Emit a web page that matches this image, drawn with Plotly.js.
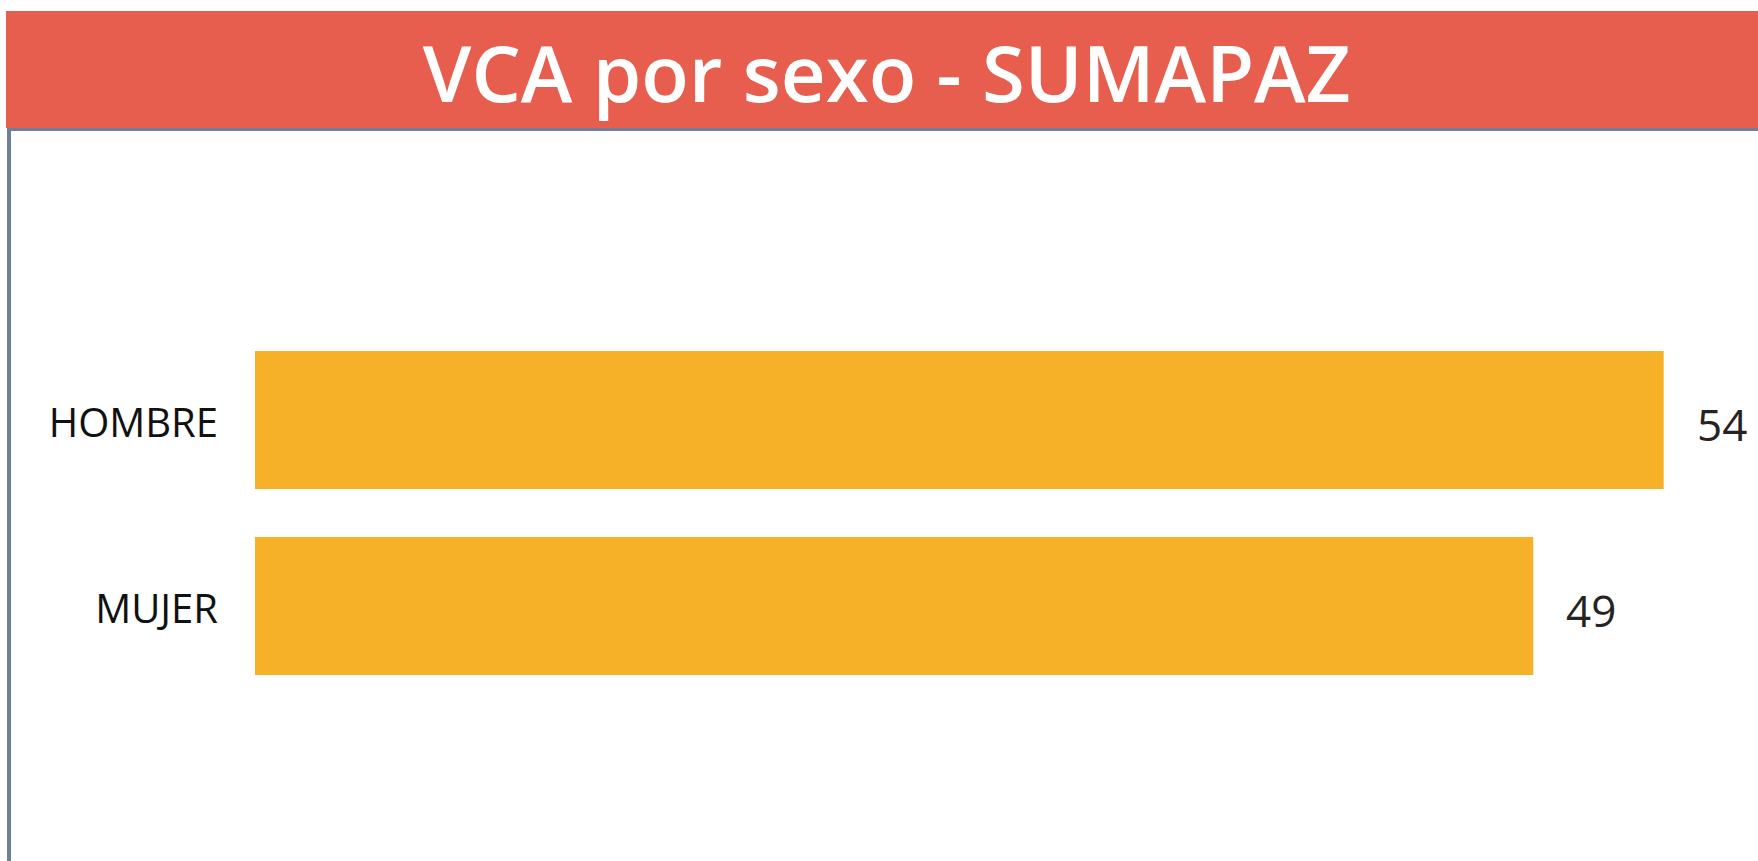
<!DOCTYPE html>
<html>
<head>
<meta charset="utf-8">
<script src="https://cdn.plot.ly/plotly-3.0.1.min.js"></script>
<style>
  html, body { margin: 0; padding: 0; background: #ffffff; overflow: hidden; }
  #chart { width: 1758px; height: 861px; }
</style>
</head>
<body>
<div id="chart"></div>
<script>
// ---- data ----
const categories = ["HOMBRE", "MUJER"];
const values = [54, 49];
const chartTitle = "VCA por sexo - SUMAPAZ";

// ---- layout constants (pixels) ----
const W = 1758, H = 861;
const M = { l: 255, r: 3, t: 327, b: 162 };
const plotW = W - M.l - M.r;
const plotH = H - M.t - M.b;
const px2x = px => (px - M.l) / plotW;
const py2y = py => (H - M.b - py) / plotH;

const barColor = "#F6B128";
const headerColor = "#E85E4E";
const borderColor = "#6E7F9A";

const trace = {
  type: "bar",
  orientation: "h",
  y: categories,
  x: values,
  marker: { color: barColor },
  hoverinfo: "x+y",
  showlegend: false
};

const valueAnnotations = categories.map((c, i) => ({
  x: values[i],
  y: c,
  xref: "x",
  yref: "y",
  text: String(values[i]),
  showarrow: false,
  xanchor: "left",
  yanchor: "middle",
  xshift: 31,
  yshift: -4,
  font: { family: "Open Sans, Noto Sans, sans-serif", size: 44, color: "#252423" }
}));

const layout = {
  width: W,
  height: H,
  margin: M,
  paper_bgcolor: "#ffffff",
  plot_bgcolor: "#ffffff",
  bargap: 0.258,
  title: {
    text: chartTitle,
    font: { family: "Open Sans, Noto Sans, sans-serif", size: 78, color: "#ffffff", weight: 600 },
    xref: "container",
    yref: "container",
    x: 886.7 / W,
    xanchor: "center",
    y: 1 - 74.5 / H,
    yanchor: "middle"
  },
  xaxis: {
    range: [0, plotW / 26.087],
    showgrid: false,
    zeroline: false,
    showticklabels: false,
    showline: false,
    fixedrange: true
  },
  yaxis: {
    type: "category",
    categoryorder: "array",
    categoryarray: categories,
    autorange: "reversed",
    showgrid: false,
    zeroline: false,
    showline: false,
    ticks: "",
    ticklabelstandoff: 36,
    ticklabelshift: -3,
    tickfont: { family: "Open Sans, Noto Sans, sans-serif", size: 40, color: "#111111" },
    fixedrange: true
  },
  shapes: [
    {
      type: "rect", xref: "paper", yref: "paper", layer: "below",
      x0: px2x(6), x1: px2x(W + 2), y0: py2y(128), y1: py2y(11),
      fillcolor: headerColor, line: { width: 0 }
    },
    {
      type: "line", xref: "paper", yref: "paper",
      x0: px2x(7), x1: px2x(W + 2), y0: py2y(129.5), y1: py2y(129.5),
      line: { color: borderColor, width: 3 }
    },
    {
      type: "line", xref: "paper", yref: "paper",
      x0: px2x(9), x1: px2x(9), y0: py2y(128), y1: py2y(H + 2),
      line: { color: borderColor, width: 4 }
    }
  ],
  annotations: valueAnnotations
};

Plotly.newPlot("chart", [trace], layout, { displayModeBar: false, staticPlot: false });
</script>
</body>
</html>
